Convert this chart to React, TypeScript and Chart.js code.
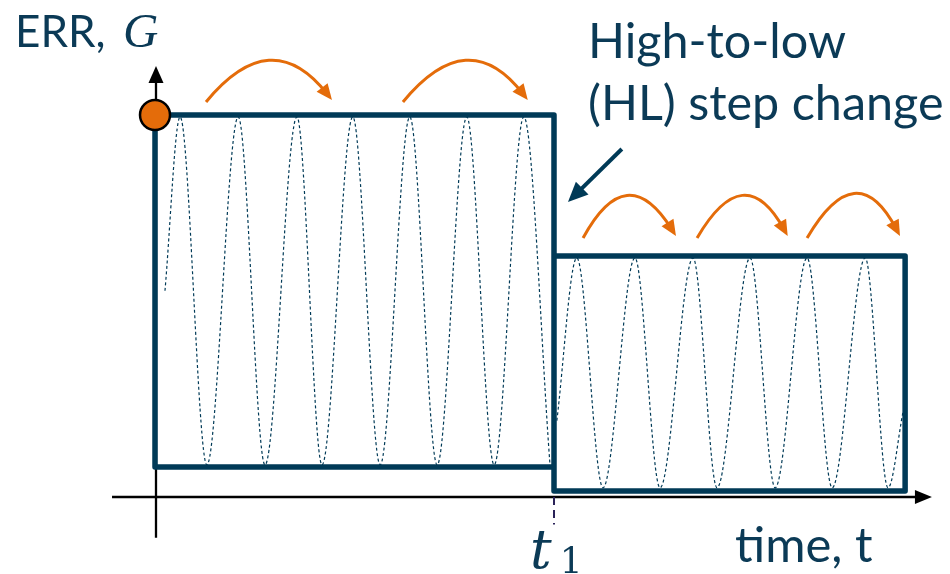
import React, { useEffect, useRef } from 'react';
import { Chart, registerables } from 'chart.js';

Chart.register(...registerables);

// ---- data (time in oscillation periods, ERR normalised to the high level) ----
const t1 = 7.0;
const tEnd = 13.16;
const stepTimes = [t1, 0, 0, t1, t1, tEnd, tEnd, t1];
const stepLevels = [0.0785, 0.0785, 1.0, 1.0, 0.0157, 0.0157, 0.631, 0.631];

const wave1Times = [0.175, 0.44, 0.91, 1.46, 1.93, 2.49, 2.93, 3.47, 3.95, 4.47, 4.95, 5.47, 5.95, 6.47, 6.93];
const wave1Values = [0.54, 0.995, 0.084, 0.995, 0.084, 0.995, 0.084, 0.995, 0.084, 0.995, 0.084, 0.995, 0.084, 0.995, 0.084];

const wave2Times = [7.05, 7.4, 7.86, 8.42, 8.86, 9.44, 9.86, 10.44, 10.88, 11.44, 11.88, 12.46, 12.86, 13.12];
const wave2Values = [0.2, 0.626, 0.024, 0.626, 0.024, 0.626, 0.024, 0.626, 0.024, 0.626, 0.024, 0.626, 0.024, 0.22];

const markerTime = [0];
const markerValue = [1.0];

const xLabel = 'time, t';
const yLabel = 'ERR, ';
const yLabelSymbol = 'G';
const stepLabel = ['High-to-low', '(HL) step change'];
const t1Label = ['t', '1'];

// ---- styles / layout ----
const NAVY = '#003a57';
const TEXT = '#0b3a56';
const ORANGE = '#E46C0A';

const X_MIN = -155 / 57;
const X_MAX = (950 - 155) / 57;
const Y_MAX = 497 / 382;
const Y_MIN = -77 / 382;

// arcs: start, peak, end (data units)
const arcs = [
  [[0.895, 1.034], [2.02, 1.139], [3.105, 1.039]],
  [[4.35, 1.034], [5.47, 1.139], [6.54, 1.039]],
  [[7.51, 0.678], [8.3, 0.785], [9.14, 0.683]],
  [[9.51, 0.678], [10.32, 0.785], [11.1, 0.683]],
  [[11.44, 0.678], [12.28, 0.79], [13.07, 0.683]],
];

function arrowHead(ctx: CanvasRenderingContext2D, tx: number, ty: number, ang: number, len: number, w: number, color: string) {
  const bx = tx - len * Math.cos(ang);
  const by = ty - len * Math.sin(ang);
  const nx = -Math.sin(ang) * (w / 2);
  const ny = Math.cos(ang) * (w / 2);
  ctx.fillStyle = color;
  ctx.beginPath();
  ctx.moveTo(tx, ty);
  ctx.lineTo(bx + nx, by + ny);
  ctx.lineTo(bx - nx, by - ny);
  ctx.closePath();
  ctx.fill();
}

const overlay = {
  id: 'overlay',
  beforeDatasetsDraw(chart: any) {
    const { ctx, scales } = chart;
    const X = (t: number) => scales.x.getPixelForValue(t);
    const Y = (v: number) => scales.y.getPixelForValue(v);
    ctx.save();
    ctx.strokeStyle = '#000';
    ctx.lineWidth = 2.3;
    // x axis
    const y0 = Y(0);
    ctx.beginPath();
    ctx.moveTo(X(-0.754), y0);
    ctx.lineTo(X(13.63) - 12, y0);
    ctx.stroke();
    arrowHead(ctx, X(13.63), y0, 0, 17, 14, '#000');
    // y axis
    const x0 = X(0);
    ctx.beginPath();
    ctx.moveTo(x0 + 1, Y(-0.107));
    ctx.lineTo(x0 + 1, Y(1.128) + 12);
    ctx.stroke();
    arrowHead(ctx, x0 + 1, Y(1.128), -Math.PI / 2, 17, 15, '#000');
    // t1 dashed marker
    ctx.strokeStyle = '#2a2258';
    ctx.lineWidth = 2;
    ctx.setLineDash([8, 5]);
    ctx.beginPath();
    ctx.moveTo(X(t1), y0);
    ctx.lineTo(X(t1), Y(-0.072));
    ctx.stroke();
    ctx.setLineDash([]);
    ctx.restore();
  },
  afterDatasetsDraw(chart: any) {
    const { ctx, scales } = chart;
    const X = (t: number) => scales.x.getPixelForValue(t);
    const Y = (v: number) => scales.y.getPixelForValue(v);
    ctx.save();
    // orange arcs
    for (const [s, p, e] of arcs) {
      const sx = X(s[0]), sy = Y(s[1]);
      const px = X(p[0]), py = Y(p[1]);
      const ex = X(e[0]), ey = Y(e[1]);
      const cx = 2 * px - (sx + ex) / 2;
      const cy = 2 * py - (sy + ey) / 2;
      const ang = Math.atan2(ey - cy, ex - cx);
      ctx.strokeStyle = ORANGE;
      ctx.lineWidth = 3;
      ctx.beginPath();
      ctx.moveTo(sx, sy);
      ctx.quadraticCurveTo(cx, cy, ex - 8 * Math.cos(ang), ey - 8 * Math.sin(ang));
      ctx.stroke();
      arrowHead(ctx, ex, ey, ang, 16, 14, ORANGE);
    }
    // navy pointer arrow
    const ax0 = X(8.19), ay0 = Y(0.911), ax1 = X(7.245), ay1 = Y(0.772);
    const ang = Math.atan2(ay1 - ay0, ax1 - ax0);
    ctx.strokeStyle = NAVY;
    ctx.lineWidth = 4;
    ctx.beginPath();
    ctx.moveTo(ax0, ay0);
    ctx.lineTo(ax1 - 12 * Math.cos(ang), ay1 - 12 * Math.sin(ang));
    ctx.stroke();
    arrowHead(ctx, ax1, ay1, ang, 20, 18, NAVY);

    // texts
    ctx.fillStyle = TEXT;
    ctx.textBaseline = 'alphabetic';
    ctx.textAlign = 'left';
    ctx.font = '44px Lato';
    ctx.fillText(yLabel, X(-2.456), Y(1.178));
    ctx.font = 'italic 49px "Liberation Serif"';
    ctx.fillText(yLabelSymbol, X(-0.56), Y(1.178));
    ctx.font = '48.5px Lato';
    ctx.fillText(stepLabel[0], X(7.596), Y(1.149));
    ctx.fillText(stepLabel[1], X(7.596), Y(0.987));
    ctx.font = '49px Lato';
    ctx.fillText(xLabel, X(10.175), Y(-0.17));
    ctx.font = 'italic 54px "DejaVu Serif"';
    ctx.fillText(t1Label[0], X(6.58), Y(-0.186));
    ctx.font = '36px "DejaVu Serif"';
    ctx.fillText(t1Label[1], X(7.1), Y(-0.199));
    ctx.restore();
  },
};

export default function App() {
  const ref = useRef<HTMLCanvasElement>(null);
  useEffect(() => {
    const canvas = ref.current!;
    const toPts = (xs: number[], ys: number[]) => xs.map((x, i) => ({ x, y: ys[i] }));
    const chart = new Chart(canvas, {
      type: 'scatter',
      data: {
        datasets: [
          {
            data: toPts(markerTime, markerValue),
            pointRadius: 15,
            pointBackgroundColor: ORANGE,
            pointBorderColor: '#000',
            pointBorderWidth: 2.5,
            showLine: false,
            order: 0,
            clip: false,
          } as any,
          {
            data: toPts(stepTimes, stepLevels),
            showLine: true,
            borderColor: NAVY,
            borderWidth: 5.5,
            borderJoinStyle: 'round',
            borderCapStyle: 'round',
            pointRadius: 0,
            order: 1,
            clip: false,
          },
          {
            data: toPts(wave1Times, wave1Values),
            showLine: true,
            borderColor: NAVY,
            borderWidth: 1.2,
            borderDash: [3, 2.5],
            cubicInterpolationMode: 'monotone',
            pointRadius: 0,
            order: 2,
          },
          {
            data: toPts(wave2Times, wave2Values),
            showLine: true,
            borderColor: NAVY,
            borderWidth: 1.2,
            borderDash: [3, 2.5],
            cubicInterpolationMode: 'monotone',
            pointRadius: 0,
            order: 2,
          },
        ],
      },
      options: {
        responsive: false,
        animation: false,
        devicePixelRatio: 1,
        layout: { padding: 0, autoPadding: false },
        plugins: { legend: { display: false }, tooltip: { enabled: false } },
        events: [],
        scales: {
          x: { type: 'linear', min: X_MIN, max: X_MAX, display: false },
          y: { type: 'linear', min: Y_MIN, max: Y_MAX, display: false },
        },
      },
      plugins: [overlay],
    });
    return () => chart.destroy();
  }, []);
  return (
    <div style={{ position: 'absolute', left: 0, top: 0, width: 950, height: 574, background: '#fff' }}>
      <canvas ref={ref} width={950} height={574} style={{ display: 'block' }} />
    </div>
  );
}
